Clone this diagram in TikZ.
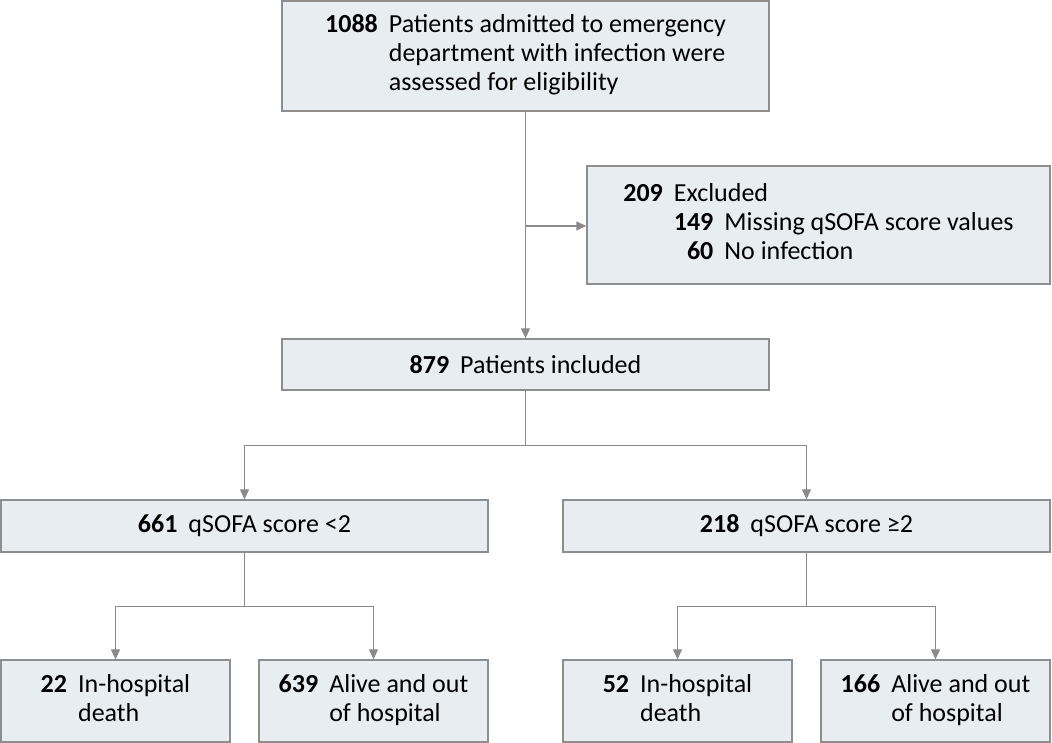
\documentclass[tikz,border=0pt]{standalone}
\usepackage{fontspec}
\setmainfont{Carlito}
\usetikzlibrary{arrows.meta}
\definecolor{boxfill}{HTML}{E7EDF1}
\definecolor{boxline}{HTML}{8E8E8E}
\definecolor{linecol}{HTML}{8A8A8A}
\newcommand{\nb}[1]{\textbf{#1}}
\begin{document}
\begin{tikzpicture}[x=1pt,y=1pt,
  box/.style={draw=boxline,line width=1.3pt,fill=boxfill,inner sep=0pt,
    minimum width=#1,anchor=center,font=\fontsize{26}{29}\selectfont,align=center},
  arr/.style={draw=linecol,line width=1.2pt,-{Triangle[length=10pt,width=9pt]}},
  ln/.style={draw=linecol,line width=1.2pt}]
\useasboundingbox (0,0) rectangle (1052,-743);
\node[box=487pt,minimum height=110pt] (top) at (525.5,-56)
  {\begin{tabular}{@{}r@{\hspace{11pt}}l@{}}\nb{1088} & Patients admitted to emergency\\
   & department with infection were\\ & assessed for eligibility\end{tabular}};
\node[box=463pt,minimum height=118pt] (excl) at (818.5,-225)
  {\begin{tabular}{@{}r@{\hspace{11pt}}r@{\hspace{11pt}}l@{}}\nb{209} & \multicolumn{2}{@{}l@{}}{Excluded}\\
   & \nb{149} & Missing qSOFA score values\\ & \nb{60} & No infection\end{tabular}};
\node[box=487pt,minimum height=51pt] (incl) at (525.5,-364.5) {\nb{879}\hspace{11pt}Patients included};
\node[box=487pt,minimum height=52pt] (b661) at (244.5,-526) {\nb{661}\hspace{11pt}qSOFA score <2};
\node[box=487pt,minimum height=52pt] (b218) at (806.5,-526) {\nb{218}\hspace{11pt}qSOFA score ≥2};
\node[box=229pt,minimum height=82pt] (b22) at (115.5,-701)
  {\begin{tabular}{@{}r@{\hspace{11pt}}l@{}}\nb{22} & In-hospital\\ & death\end{tabular}};
\node[box=229pt,minimum height=82pt] (b639) at (373.5,-701)
  {\begin{tabular}{@{}r@{\hspace{11pt}}l@{}}\nb{639} & Alive and out\\ & of hospital\end{tabular}};
\node[box=229pt,minimum height=82pt] (b52) at (677.5,-701)
  {\begin{tabular}{@{}r@{\hspace{11pt}}l@{}}\nb{52} & In-hospital\\ & death\end{tabular}};
\node[box=229pt,minimum height=82pt] (b166) at (935.5,-701)
  {\begin{tabular}{@{}r@{\hspace{11pt}}l@{}}\nb{166} & Alive and out\\ & of hospital\end{tabular}};
% connectors
\draw[arr] (top.south) -- (incl.north);
\coordinate (j1) at (525.5,-226);
\draw[arr] (j1) -- (excl.west |- j1);
\draw[ln] (incl.south) -- ++(0,-55) coordinate (j2);
\draw[arr] (j2) -| (b661.north);
\draw[arr] (j2) -| (b218.north);
\draw[ln] (b661.south) -- ++(0,-54) coordinate (j3);
\draw[arr] (j3) -| (b22.north);
\draw[arr] (j3) -| (b639.north);
\draw[ln] (b218.south) -- ++(0,-54) coordinate (j4);
\draw[arr] (j4) -| (b52.north);
\draw[arr] (j4) -| (b166.north);
\end{tikzpicture}
\end{document}
